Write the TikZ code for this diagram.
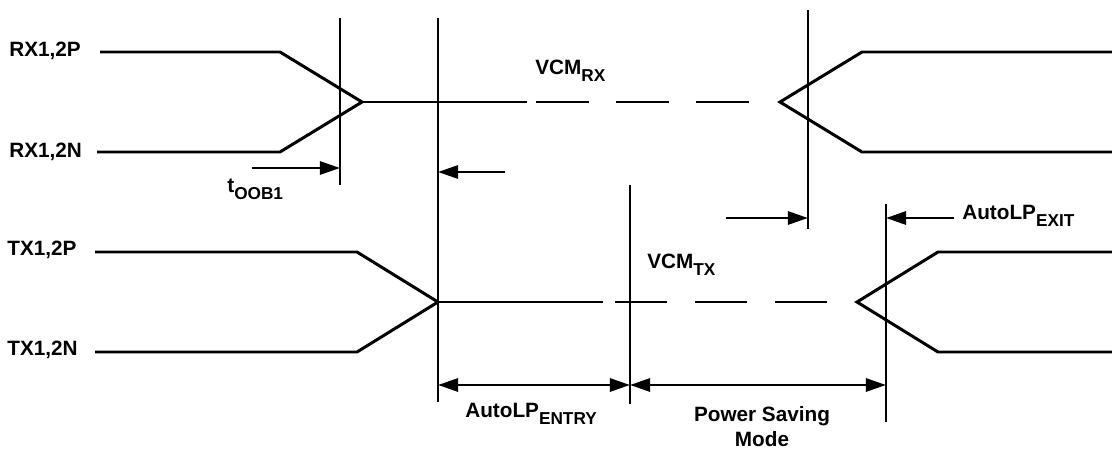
\documentclass[tikz,border=0pt]{standalone}
\usepackage{fontspec}
\setmainfont{Liberation Sans}
\usetikzlibrary{arrows.meta}
\newcommand\lpsub[1]{\raisebox{-4.5pt}{\fontsize{9.8}{9.8}\selectfont #1}}
\tikzset{
  sig/.style={black, line width=1.7pt},
  mark line/.style={black, line width=1.6pt},
  tip/.style={-{Triangle[length=11.5pt,width=7.5pt]}, line width=1.6pt},
  both tips/.style={{Triangle[length=11.5pt,width=7.5pt]}-{Triangle[length=11.5pt,width=7.5pt]}, line width=1.6pt},
  lbl/.style={font=\fontsize{11.8}{14.2}\selectfont\bfseries, inner sep=0pt}
}
\begin{document}
\begin{tikzpicture}[scale=0.2]
  \useasboundingbox (0,0) rectangle (111.2,-45.2);
  % signal names
  \node [lbl, anchor=west] (rxp) at (0.9,-5.1) {RX1,2P};
  \node [lbl, anchor=west] (rxn) at (0.9,-15.2) {RX1,2N};
  \node [lbl, anchor=west] (txp) at (0.7,-25.0) {TX1,2P};
  \node [lbl, anchor=west] (txn) at (0.7,-35.0) {TX1,2N};
  % RX pair
  \draw [sig] (10.0,-5.2) -- (28.0,-5.2) -- (36.2,-10.2) -- (28.0,-15.2) -- (9.7,-15.2);
  \draw [sig] (36.2,-10.2) -- (52.7,-10.2);
  \foreach \x in {53.6,61.6,69.6}
    \draw [sig] (\x,-10.2) -- ++(5.3,0);
  \draw [sig] (111.2,-5.2) -- (86.2,-5.2) -- (78.0,-10.2) -- (86.2,-15.2) -- (111.2,-15.2);
  % TX pair
  \draw [sig] (9.5,-25.2) -- (35.7,-25.2) -- (43.8,-30.2) -- (35.7,-35.2) -- (9.5,-35.2);
  \draw [sig] (43.8,-30.2) -- (60.3,-30.2);
  \foreach \x in {61.5,69.5,77.5}
    \draw [sig] (\x,-30.2) -- ++(5.2,0);
  \draw [sig] (111.2,-25.2) -- (93.8,-25.2) -- (85.7,-30.2) -- (93.8,-35.2) -- (111.2,-35.2);
  % time marks
  \draw [mark line] (34.0,-1.8) coordinate (oobtop) -- (34.0,-18.5) coordinate (oobbot);
  \draw [mark line] (43.8,-1.8) coordinate (entop) -- (43.8,-40.2) coordinate (enbot);
  \draw [mark line] (80.8,-1.0) coordinate (rxtop) -- (80.8,-22.9) coordinate (rxbot);
  \draw [mark line] (63.0,-18.5) coordinate (pstop) -- (63.0,-40.4) coordinate (psbot);
  \draw [mark line] (88.6,-20.4) coordinate (extop) -- (88.6,-42.2) coordinate (exbot);
  % arrows onto the marks
  \coordinate (a1) at (25.2,-16.8);
  \coordinate (a1e) at (34.0,-16.8);
  \coordinate (a2) at (50.5,-17.2);
  \coordinate (a2e) at (43.8,-17.2);
  \coordinate (a3) at (72.6,-21.8);
  \coordinate (a3e) at (80.8,-21.8);
  \coordinate (a4) at (95.4,-21.8);
  \coordinate (a4e) at (88.6,-21.8);
  \draw [tip] (a1) -- (a1e);
  \draw [tip] (a2) -- (a2e);
  \draw [tip] (a3) -- (a3e);
  \draw [tip] (a4) -- (a4e);
  % durations
  \coordinate (d1) at (43.8,-38.5);
  \coordinate (d2) at (63.0,-38.5);
  \coordinate (d3) at (88.6,-38.5);
  \draw [both tips] (d1) -- (d2);
  \draw [both tips] (d2) -- (d3);
  % labels
  \node [lbl, anchor=base west] (toob) at (22.7,-19.2) {t\lpsub{OOB1}};
  \node [lbl, anchor=base west] (vcmrx) at (53.5,-7.4) {VCM\lpsub{RX}};
  \node [lbl, anchor=base west] (vcmtx) at (64.7,-26.8) {VCM\lpsub{TX}};
  \node [lbl, anchor=base west] (exit) at (96.2,-21.9) {AutoLP\lpsub{EXIT}};
  \node [lbl, anchor=base west] (entry) at (46.5,-41.7) {AutoLP\lpsub{ENTRY}};
  \node [lbl, align=center, anchor=north] (psm) at (76.2,-40.6) {Power Saving\\Mode};
\end{tikzpicture}
\end{document}
